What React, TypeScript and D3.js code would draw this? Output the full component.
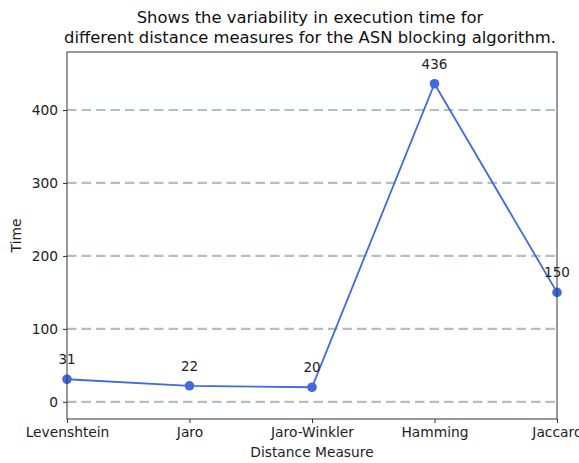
import React, { useEffect, useRef } from "react";
import * as d3 from "d3";

const measures = ["Levenshtein", "Jaro", "Jaro-Winkler", "Hamming", "Jaccard"];
const times = [31, 22, 20, 436, 150];
const yTicks = [0, 100, 200, 300, 400];

const App = () => {
  const svgRef = useRef<SVGSVGElement>(null);
  const width = 579;
  const height = 463;
  const margin = { top: 52, right: 22, bottom: 44, left: 67 };
  const font = "DejaVu Sans, sans-serif";

  useEffect(() => {
    const svgEl = d3.select(svgRef.current);
    svgEl.selectAll("*").remove();

    const x = d3
      .scalePoint()
      .domain(measures)
      .range([margin.left, width - margin.right]);

    const y = d3
      .scaleLinear()
      .domain([-23.5, 479.5])
      .range([height - margin.bottom, margin.top]);

    // grid
    svgEl
      .append("g")
      .attr("class", "grid")
      .selectAll("line")
      .data(yTicks)
      .join("line")
      .attr("x1", margin.left)
      .attr("x2", width - margin.right)
      .attr("y1", (d) => y(d))
      .attr("y2", (d) => y(d))
      .attr("stroke", "#b2c1bd")
      .attr("stroke-width", 2.2)
      .attr("stroke-dasharray", "9.5,5");

    const line = d3
      .line<number>()
      .x((d, i) => x(measures[i]) as number)
      .y((d) => y(d));

    svgEl
      .append("path")
      .datum(times)
      .attr("fill", "none")
      .attr("stroke", "#4169e1")
      .attr("stroke-width", 1.8)
      .attr("d", line);

    svgEl
      .append("g")
      .attr("fill", "#4169e1")
      .selectAll("circle")
      .data(times)
      .join("circle")
      .attr("cx", (d, i) => x(measures[i]) as number)
      .attr("cy", (d) => y(d))
      .attr("r", 4.8);

    svgEl
      .append("g")
      .attr("font-family", font)
      .attr("font-size", 13.5)
      .attr("fill", "#222")
      .attr("text-anchor", "middle")
      .selectAll("text")
      .data(times)
      .join("text")
      .attr("x", (d, i) => x(measures[i]) as number)
      .attr("y", (d) => y(d) - 15)
      .text((d) => d);

    // frame
    svgEl
      .append("rect")
      .attr("x", margin.left)
      .attr("y", margin.top)
      .attr("width", width - margin.left - margin.right)
      .attr("height", height - margin.top - margin.bottom)
      .attr("fill", "none")
      .attr("stroke", "#333")
      .attr("stroke-width", 1);

    const xAxis = svgEl
      .append("g")
      .attr("transform", `translate(0,${height - margin.bottom})`)
      .call(d3.axisBottom(x).tickSize(4).tickPadding(4));
    xAxis.select(".domain").remove();

    const yAxis = svgEl
      .append("g")
      .attr("transform", `translate(${margin.left},0)`)
      .call(d3.axisLeft(y).tickValues(yTicks).tickSize(4).tickPadding(5));
    yAxis.select(".domain").remove();

    svgEl
      .selectAll(".tick text")
      .attr("font-family", font)
      .attr("font-size", 13.8)
      .attr("fill", "#222");
    svgEl.selectAll(".tick line").attr("stroke", "#333");

    svgEl
      .append("text")
      .attr("x", (margin.left + width - margin.right) / 2)
      .attr("y", 457)
      .attr("text-anchor", "middle")
      .attr("font-family", font)
      .attr("font-size", 13.8)
      .attr("fill", "#222")
      .text("Distance Measure");

    svgEl
      .append("text")
      .attr("transform", `translate(21,${(margin.top + height - margin.bottom) / 2}) rotate(-90)`)
      .attr("text-anchor", "middle")
      .attr("font-family", font)
      .attr("font-size", 13.8)
      .attr("fill", "#222")
      .text("Time");

    const title = svgEl
      .append("text")
      .attr("text-anchor", "middle")
      .attr("font-family", font)
      .attr("font-size", 16.4)
      .attr("fill", "#111");
    title
      .append("tspan")
      .attr("x", 310)
      .attr("y", 23)
      .text("Shows the variability in execution time for");
    title
      .append("tspan")
      .attr("x", 310)
      .attr("y", 43)
      .text("different distance measures for the ASN blocking algorithm.");
  }, []);

  return (
    <svg
      ref={svgRef}
      width={width}
      height={height}
      style={{ position: "absolute", left: 0, top: 0, background: "#fff" }}
    />
  );
};

export default App;
